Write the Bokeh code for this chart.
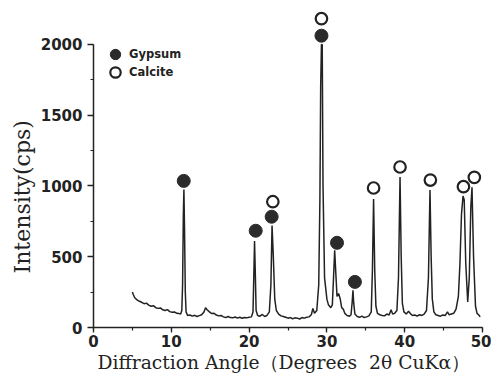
import math
from bokeh.plotting import figure
from bokeh.models import Legend, LegendItem, Title, ColumnDataSource, SingleIntervalTicker
from bokeh.embed import file_html
from bokeh.resources import INLINE

# ---- data ----
two_theta = [5.0, 5.1, 5.3, 5.6, 5.9, 6.2, 6.5, 6.8, 7.1, 7.4, 7.7, 8.0, 8.3, 8.6, 8.9,
             9.2, 9.5, 9.8, 10.1, 10.4, 10.7, 11.0, 11.2, 11.35, 11.45, 11.55, 11.62,
             11.7, 11.8, 11.9, 12.1, 12.4, 12.7, 13.0, 13.3, 13.6, 13.9, 14.2, 14.4,
             14.6, 14.9, 15.2, 15.5, 15.8, 16.1, 16.4, 16.7, 17.0, 17.3, 17.6, 17.9,
             18.2, 18.5, 18.8, 19.1, 19.4, 19.7, 20.0, 20.3, 20.5, 20.6, 20.7, 20.8,
             20.9, 21.1, 21.4, 21.7, 22.0, 22.3, 22.6, 22.8, 22.95, 23.1, 23.3, 23.5,
             23.8, 24.1, 24.4, 24.7, 25.0, 25.3, 25.6, 25.9, 26.2, 26.5, 26.8, 27.1,
             27.4, 27.7, 28.0, 28.2, 28.4, 28.7, 28.95, 29.1, 29.2, 29.3, 29.4, 29.5,
             29.7, 30.0, 30.2, 30.5, 30.7, 30.85, 31.0, 31.15, 31.3, 31.5, 31.7, 31.9,
             32.1, 32.3, 32.6, 32.9, 33.1, 33.25, 33.35, 33.45, 33.6, 33.9, 34.2, 34.5,
             34.8, 35.1, 35.4, 35.7, 35.85, 36.0, 36.15, 36.3, 36.5, 36.8, 37.1, 37.4,
             37.7, 38.0, 38.25, 38.45, 38.7, 39.0, 39.2, 39.4, 39.55, 39.7, 39.9, 40.2,
             40.5, 40.7, 41.0, 41.3, 41.6, 41.9, 42.2, 42.5, 42.8, 43.05, 43.25, 43.4,
             43.55, 43.75, 44.0, 44.3, 44.6, 44.9, 45.2, 45.5, 45.7, 46.0, 46.3, 46.6,
             46.9, 47.1, 47.3, 47.5, 47.65, 47.85, 48.1, 48.3, 48.5, 48.65, 48.85, 49.1,
             49.3, 49.5, 49.7]
intensity = [250, 235, 210, 195, 185, 178, 168, 172, 158, 150, 154, 140, 135, 138, 125,
             120, 126, 112, 108, 110, 100, 98, 95, 120, 300, 800, 975,
             700, 250, 110, 85, 88, 80, 86, 78, 84, 90, 110, 140,
             125, 110, 98, 100, 88, 82, 85, 75, 70, 78, 70, 68,
             74, 66, 72, 65, 70, 68, 72, 75, 110, 350, 610, 380,
             120, 85, 80, 92, 78, 85, 110, 300, 720, 520, 200, 120,
             95, 82, 78, 72, 66, 70, 62, 68, 66, 60, 70, 66,
             72, 75, 90, 135, 100, 120, 300, 900, 1700, 2000, 1995, 1000,
             350, 200, 160, 140, 160, 350, 546, 380, 220, 240, 205, 140,
             130, 100, 85, 80, 90, 180, 263, 170, 95, 78, 72, 80,
             70, 75, 82, 110, 400, 907, 400, 150, 100, 90, 85, 82,
             95, 88, 125, 95, 100, 120, 350, 1062, 500, 170, 110, 95,
             115, 100, 85, 88, 80, 90, 85, 95, 120, 350, 970, 500,
             200, 110, 90, 85, 80, 88, 84, 110, 90, 95, 100, 130,
             220, 450, 800, 928, 900, 450, 181, 350, 850, 990, 500, 150,
             100, 90, 75]

gypsum_theta = [11.6, 20.85, 22.9, 29.3, 31.3, 33.6]
gypsum_int = [1035, 683, 782, 2060, 598, 322]
calcite_theta = [23.05, 29.3, 36.0, 39.4, 43.3, 47.55, 48.95]
calcite_int = [888, 2180, 985, 1133, 1041, 994, 1060]

x_ticks_interval = 10
y_ticks_interval = 500

INK = "#222222"

p = figure(width=491, height=385, x_range=(0, 50), y_range=(0, 2238),
           output_backend="svg", toolbar_location=None,
           min_border_left=93, min_border_right=9, min_border_top=10, min_border_bottom=58)
p.background_fill_color = "white"
p.border_fill_color = "white"
p.outline_line_color = None
p.xgrid.visible = False
p.ygrid.visible = False

p.line(two_theta, intensity, line_color=INK, line_width=1.5)

src_g = ColumnDataSource(dict(x=gypsum_theta, y=gypsum_int))
src_c = ColumnDataSource(dict(x=calcite_theta, y=calcite_int))
rg = p.scatter("x", "y", source=src_g, marker="circle", size=13,
               fill_color="#2b2b2b", line_color="#2b2b2b")
rc = p.scatter("x", "y", source=src_c, marker="circle", size=11.5,
               fill_color="white", line_color=INK, line_width=2.2)

common = dict(orientation="vertical", glyph_width=26, glyph_height=28, label_height=14,
              label_standoff=1, spacing=0, padding=0, margin=0, border_line_color=None,
              background_fill_alpha=0, label_text_font="DejaVu Sans",
              label_text_font_style="bold", label_text_font_size="11.5px",
              label_text_color=INK)
leg1 = Legend(items=[LegendItem(label="Gypsum", renderers=[rg])], location=(9, 259), **common)
leg2 = Legend(items=[LegendItem(label="Calcite", renderers=[rc])], location=(9, 241), **common)
p.add_layout(leg1)
p.add_layout(leg2)

for ax in (p.xaxis[0], p.yaxis[0]):
    ax.axis_line_color = INK
    ax.axis_line_width = 1.5
    ax.major_tick_line_color = INK
    ax.minor_tick_line_color = INK
    ax.major_tick_line_width = 1.3
    ax.minor_tick_line_width = 1.2
    ax.major_tick_in = 0
    ax.minor_tick_in = 0
    ax.major_label_text_font = "DejaVu Sans"
    ax.major_label_text_font_style = "bold"
    ax.major_label_text_font_size = "15px"
    ax.major_label_text_color = INK

p.xaxis.ticker = SingleIntervalTicker(interval=x_ticks_interval, num_minor_ticks=2)
p.yaxis.ticker = SingleIntervalTicker(interval=y_ticks_interval, num_minor_ticks=2)
p.xaxis.bounds = (0, 50)
p.yaxis.bounds = (0, 2000)
p.xaxis.major_tick_out = 5
p.xaxis.minor_tick_out = 3
p.yaxis.major_tick_out = 6
p.yaxis.minor_tick_out = 3
p.xaxis.major_label_standoff = 2
p.yaxis.major_label_standoff = 5

xtitle = Title(text="Diffraction Angle（Degrees\u00a0\u00a02θ CuKα）", align="left", offset=4,
               text_font="DejaVu Serif", text_font_size="18.7px", text_font_style="normal",
               text_color=INK, standoff=0)
ytitle = Title(text="Intensity(cps)", align="left", offset=54,
               text_font="DejaVu Serif", text_font_size="22px", text_font_style="normal",
               text_color=INK, standoff=5)
p.add_layout(xtitle, "below")
p.add_layout(ytitle, "left")

open("out.html", "w").write(file_html(p, INLINE))
